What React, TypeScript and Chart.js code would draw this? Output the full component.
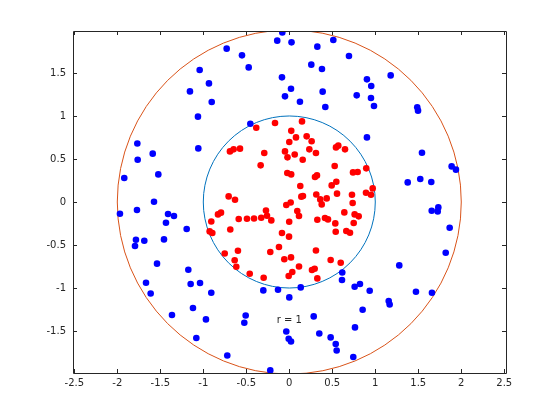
import { useEffect, useRef } from "react";
import { Chart, registerables } from "chart.js";

Chart.register(...registerables);

// Points outside the unit circle (blue)
const blueX = [
  -0.081, -0.14, 0.026, -0.728, -0.55, -0.472, -1.042, -0.085, 0.02, -0.934,
  -1.155, -0.05, -0.902, -1.062, -0.453, -1.767, 0.512, 0.326, 0.694, 0.256,
  0.38, 1.179, 0.903, 0.953, 0.388, 0.784, 0.95, 0.985, 0.124, 0.419,
  0.903, 1.488, 1.497, -1.588, -1.763, -1.919, -1.523, -1.573, -1.771, -1.969,
  -1.41, -1.341, -1.434, -1.783, -1.686, -1.457, -1.794, -1.058, -1.193, 1.543,
  1.888, 1.938, 1.523, 1.377, 1.651, 1.733, 1.656, 1.726, 1.865, 1.819,
  -1.538, -1.666, -1.612, -1.364, -1.174, -1.147, -1.038, -0.907, -1.12, -0.969,
  -0.507, -0.523, -1.081, -0.721, -0.221, -0.302, -0.131, 0.0, -0.035, -0.007,
  0.02, 0.616, 0.613, 0.133, 0.76, 0.822, 0.935, 1.279, 1.156, 1.167,
  0.853, 0.284, 0.764, 0.349, 0.481, 0.54, 0.551, 0.744, 1.473, 1.659,
];
const blueY = [
  1.972, 1.876, 1.856, 1.783, 1.705, 1.565, 1.535, 1.449, 1.317, 1.379,
  1.286, 1.228, 1.163, 0.992, 0.91, 0.68, 1.884, 1.806, 1.698, 1.597,
  1.547, 1.472, 1.426, 1.349, 1.283, 1.24, 1.209, 1.116, 1.166, 1.105,
  0.751, 1.102, 1.062, 0.562, 0.492, 0.279, 0.321, 0.003, -0.093, -0.136,
  -0.14, -0.163, -0.241, -0.438, -0.45, -0.435, -0.512, 0.623, -0.314, 0.573,
  0.414, 0.376, 0.267, 0.228, 0.233, -0.063, -0.101, -0.109, -0.299, -0.59,
  -0.717, -0.938, -1.063, -1.314, -0.787, -0.953, -0.942, -1.055, -1.233, -1.365,
  -1.319, -1.403, -1.581, -1.784, -1.958, -1.028, -1.02, -1.109, -1.505, -1.59,
  -1.621, -0.819, -0.907, -0.993, -0.985, -0.953, -1.031, -0.737, -1.151, -1.191,
  -1.252, -1.33, -1.458, -1.528, -1.574, -1.651, -1.726, -1.802, -1.043, -1.055,
];

// Points inside the unit circle (red)
const redX = [
  -0.384, -0.166, 0.023, 0.0, 0.148, 0.078, 0.202, 0.26, 0.57, -0.69,
  -0.647, -0.573, -0.291, -0.05, -0.021, -0.333, -0.023, 0.022, -0.705, -0.631,
  -0.035, 0.016, -0.829, -0.794, -0.271, -0.907, -0.588, -0.492, -0.41, -0.326,
  -0.259, -0.209, -0.001, -0.686, -0.926, -0.895, -0.085, -0.003, -0.751, -0.597,
  -0.221, -0.12, -0.635, -0.058, 0.02, 0.063, 0.156, 0.233, 0.31, 0.543,
  0.648, 0.528, 0.741, 0.795, 0.895, 0.299, 0.322, 0.128, 0.493, 0.547,
  0.314, 0.14, 0.159, 0.555, 0.729, 0.892, 0.97, 0.95, 0.36, 0.435,
  0.377, 0.737, 0.093, 0.113, 0.64, 0.76, 0.807, 0.326, 0.415, 0.45,
  0.535, 0.749, 0.54, 0.663, 0.706, 0.31, 0.481, 0.598, -0.616, -0.46,
  -0.298, -0.007, 0.113, 0.035, 0.264, 0.295, 0.326,
];
const redY = [
  0.864, 0.919, 0.827, 0.698, 0.937, 0.751, 0.763, 0.707, 0.655, 0.588,
  0.612, 0.62, 0.57, 0.588, 0.519, 0.426, 0.337, 0.321, 0.065, 0.027,
  -0.035, -0.006, -0.144, -0.124, -0.098, -0.226, -0.198, -0.194, -0.191, -0.183,
  -0.159, -0.214, -0.229, -0.319, -0.342, -0.36, -0.36, -0.403, -0.598, -0.566,
  -0.581, -0.523, -0.677, -0.665, -0.644, 0.553, 0.492, 0.612, 0.57, 0.635,
  0.612, 0.419, 0.344, 0.349, 0.391, 0.291, 0.309, 0.186, 0.193, 0.236,
  0.088, 0.062, 0.07, 0.097, 0.085, 0.108, 0.158, 0.085, 0.03, 0.042,
  -0.028, -0.012, -0.105, -0.163, -0.121, -0.144, -0.167, -0.206, -0.186, -0.202,
  -0.249, -0.244, -0.345, -0.337, -0.357, -0.563, -0.674, -0.706, -0.752, -0.834,
  -0.88, -0.86, -0.749, -0.814, -0.791, -0.776, -0.888,
];

const circleRadii = [1, 2];
const circleColors = ["#0072BD", "#D95319"];

const xTicks = [-2.5, -2, -1.5, -1, -0.5, 0, 0.5, 1, 1.5, 2, 2.5];
const yTicks = [-1.5, -1, -0.5, 0, 0.5, 1, 1.5];
const xLimits = [-2.515, 2.52];
const yLimits = [-1.988, 1.988];

const noteText = "r = 1";
const noteX = 0;
const noteY = -1.38;

const AXIS_COLOR = "#262626";
const FONT = "DejaVu Sans";

const circlesPlugin = {
  id: "circles",
  beforeDatasetsDraw(chart: any) {
    const { ctx, chartArea, scales } = chart;
    const xs = scales.x;
    const ys = scales.y;
    ctx.save();
    ctx.beginPath();
    ctx.rect(chartArea.left, chartArea.top, chartArea.right - chartArea.left, chartArea.bottom - chartArea.top);
    ctx.clip();
    const cx = xs.getPixelForValue(0);
    const cy = ys.getPixelForValue(0);
    circleRadii.forEach((r, i) => {
      const rx = xs.getPixelForValue(r) - cx;
      const ry = cy - ys.getPixelForValue(r);
      ctx.beginPath();
      ctx.ellipse(cx, cy, rx, ry, 0, 0, Math.PI * 2);
      ctx.strokeStyle = circleColors[i];
      ctx.lineWidth = 1;
      ctx.stroke();
    });
    ctx.restore();
  },
};

const framePlugin = {
  id: "frame",
  afterDraw(chart: any) {
    const { ctx, chartArea, scales } = chart;
    const { left, right, top, bottom } = chartArea;
    const xs = scales.x;
    const ys = scales.y;
    const tl = 4;
    ctx.save();
    ctx.strokeStyle = AXIS_COLOR;
    ctx.lineWidth = 1;
    ctx.beginPath();
    ctx.rect(Math.round(left) + 0.5, Math.round(top) + 0.5, Math.round(right - left), Math.round(bottom - top));
    ctx.stroke();
    ctx.beginPath();
    xTicks.forEach((v) => {
      const px = Math.round(xs.getPixelForValue(v)) + 0.5;
      ctx.moveTo(px, bottom);
      ctx.lineTo(px, bottom - tl);
      ctx.moveTo(px, top);
      ctx.lineTo(px, top + tl);
    });
    yTicks.forEach((v) => {
      const py = Math.round(ys.getPixelForValue(v)) + 0.5;
      ctx.moveTo(left, py);
      ctx.lineTo(left + tl, py);
      ctx.moveTo(right, py);
      ctx.lineTo(right - tl, py);
    });
    ctx.stroke();
    ctx.fillStyle = AXIS_COLOR;
    ctx.font = `10px "${FONT}"`;
    ctx.textAlign = "center";
    ctx.textBaseline = "middle";
    ctx.fillText(noteText, xs.getPixelForValue(noteX), ys.getPixelForValue(noteY));
    ctx.restore();
  },
};

export default function App() {
  const canvasRef = useRef<HTMLCanvasElement | null>(null);

  useEffect(() => {
    const canvas = canvasRef.current;
    if (!canvas) return;
    const chart = new Chart(canvas, {
      type: "scatter",
      data: {
        datasets: [
          {
            label: "outside",
            data: blueX.map((x, i) => ({ x, y: blueY[i] })),
            backgroundColor: "#0000FF",
            borderColor: "#0000FF",
            pointRadius: 3.3,
            borderWidth: 0,
          },
          {
            label: "inside",
            data: redX.map((x, i) => ({ x, y: redY[i] })),
            backgroundColor: "#FF0000",
            borderColor: "#FF0000",
            pointRadius: 3.3,
            borderWidth: 0,
          },
        ],
      },
      options: {
        responsive: false,
        animation: false,
        devicePixelRatio: 1,
        layout: { padding: { left: 0, top: 31, right: 54, bottom: 0 } },
        plugins: {
          legend: { display: false },
          tooltip: { enabled: false },
          title: { display: false },
        },
        scales: {
          x: {
            type: "linear",
            min: xLimits[0],
            max: xLimits[1],
            border: { display: false },
            grid: { display: false, drawTicks: false },
            afterBuildTicks: (scale: any) => {
              scale.ticks = xTicks.map((value) => ({ value }));
            },
            afterFit: (scale: any) => {
              scale.height = 47;
              scale.paddingLeft = 0;
              scale.paddingRight = 0;
            },
            ticks: {
              autoSkip: false,
              maxRotation: 0,
              padding: 4,
              color: AXIS_COLOR,
              font: { family: FONT, size: 10 },
              callback: (v: any) => String(v),
            },
          },
          y: {
            type: "linear",
            min: yLimits[0],
            max: yLimits[1],
            border: { display: false },
            grid: { display: false, drawTicks: false },
            afterBuildTicks: (scale: any) => {
              scale.ticks = yTicks.map((value) => ({ value }));
            },
            afterFit: (scale: any) => {
              scale.width = 73;
              scale.paddingTop = 0;
              scale.paddingBottom = 0;
            },
            ticks: {
              autoSkip: false,
              padding: 7,
              color: AXIS_COLOR,
              font: { family: FONT, size: 10 },
              callback: (v: any) => String(v),
            },
          },
        },
      },
      plugins: [circlesPlugin, framePlugin],
    });
    return () => chart.destroy();
  }, []);

  return (
    <div style={{ position: "absolute", left: 0, top: 0, width: 560, height: 420, background: "#fff" }}>
      <canvas ref={canvasRef} width={560} height={420} />
    </div>
  );
}
